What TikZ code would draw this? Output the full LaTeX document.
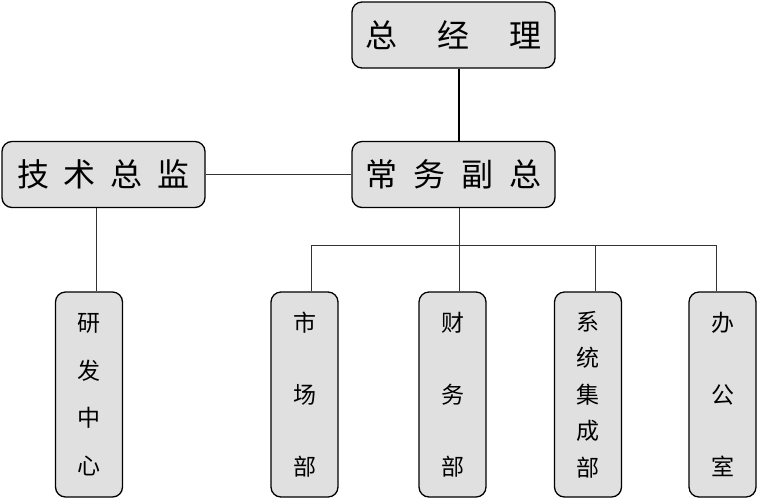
\documentclass[tikz,border=0pt]{standalone}
\usepackage{fontspec}
\newfontfamily\cjk{Noto Sans CJK SC}
\usetikzlibrary{positioning}
\definecolor{boxfill}{RGB}{224,224,224}
\tikzset{
  topbox/.style={rectangle, rounded corners=10pt, draw=black, line width=1.3pt,
                 fill=boxfill, minimum width=203pt, minimum height=66pt, inner sep=0pt,
                 font=\cjk\fontsize{32pt}{36pt}\selectfont},
  colbox/.style={rectangle, rounded corners=10pt, draw=black, line width=1.3pt,
                 fill=boxfill, minimum width=67pt, minimum height=205pt, inner sep=0pt,
                 align=center},
  link/.style={line width=1pt, draw=black!80},
  mainlink/.style={line width=2pt, draw=black}
}
\newcommand{\colfont}[1]{\cjk\fontsize{23pt}{#1}\selectfont}

\begin{document}
\begin{tikzpicture}[x=1pt, y=-1pt]
\useasboundingbox (0,0) rectangle (759,499);
\node[topbox] (zjl) at (453.5,35) {总\hspace{40pt}经\hspace{40pt}理};
\node[topbox] (cwfz) at (453.5,174.5) {常\hspace{16pt}务\hspace{16pt}副\hspace{16pt}总};
\node[topbox] (jszj) at (103.5,174.5) {技\hspace{15pt}术\hspace{15pt}总\hspace{15pt}监};
\node[colbox, font=\colfont{47.5pt}] (yfzx) at (89,394.5) {研\\发\\中\\心};
\node[colbox, font=\colfont{72pt}] (scb) at (304.5,394.5) {市\\场\\部};
\node[colbox, font=\colfont{72pt}] (cwb) at (452.5,394.5) {财\\务\\部};
\node[colbox, font=\colfont{36.5pt}] (xtb) at (588,394.5) {系\\统\\集\\成\\部};
\node[colbox, font=\colfont{72pt}] (bgs) at (722.5,394.5) {办\\公\\室};
\coordinate (trunk) at (459,245);
\draw[mainlink] (zjl.south -| trunk) -- (cwfz.north -| trunk);
\draw[link] (jszj.east) -- (cwfz.west);
\draw[link] ([xshift=-7.5pt]jszj.south) -- ([xshift=7pt]yfzx.north);
\draw[link] (cwfz.south -| trunk) -- (trunk);
\foreach \n/\dx in {scb/6.5, cwb/6.5, xtb/7, bgs/-6.5}
  \draw[link] ([xshift=\dx pt]\n.north) |- (trunk);
\end{tikzpicture}
\end{document}
